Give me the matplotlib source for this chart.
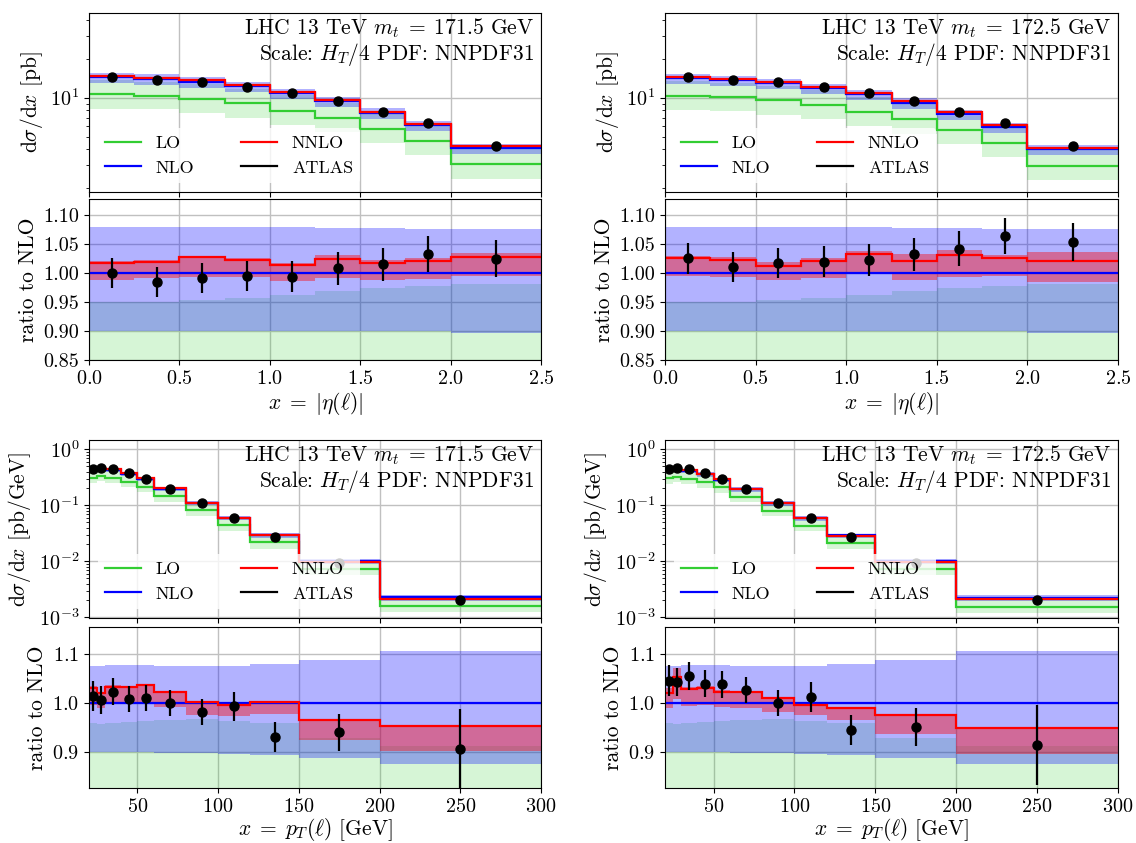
import numpy as np
import matplotlib
matplotlib.use("Agg")
import matplotlib.pyplot as plt
from matplotlib.lines import Line2D
from matplotlib.ticker import MultipleLocator, FormatStrFormatter

plt.rcParams.update({
    "font.family": "cmr10",
    "mathtext.fontset": "cm",
    "axes.formatter.use_mathtext": True,
    "font.size": 14,
    "axes.labelsize": 15.5,
    "xtick.labelsize": 14.5,
    "ytick.labelsize": 14.5,
})

LO_C = "#32cd32"
NLO_C = "#0000ff"
NNLO_C = "#ff0000"

# ---- |eta(l)| distribution ----
eta_edges = [0.0, 0.25, 0.5, 0.75, 1.0, 1.25, 1.5, 1.75, 2.0, 2.5]
eta_data = [14.5, 13.78, 13.19, 12.13, 10.83, 9.44, 7.77, 6.35, 4.21]
eta_data_relerr = [2.6, 2.6, 2.6, 2.65, 2.7, 2.75, 2.85, 2.95, 3.1]  # percent
eta_nlo_1715 = [14.5, 14.0, 13.3, 12.2, 10.9, 9.37, 7.66, 6.15, 4.11]
eta_nlo_1725 = [14.15, 13.64, 12.97, 11.90, 10.60, 9.15, 7.46, 5.97, 4.00]
# everything below relative to NLO
eta_nlo_up = [1.078, 1.078, 1.078, 1.078, 1.078, 1.077, 1.077, 1.076, 1.076]
eta_nlo_dn = [0.900, 0.900, 0.900, 0.900, 0.900, 0.900, 0.900, 0.900, 0.897]
eta_lo = [0.73, 0.74, 0.74, 0.74, 0.73, 0.745, 0.75, 0.75, 0.745]
eta_lo_up = [0.949, 0.949, 0.953, 0.956, 0.962, 0.968, 0.9735, 0.9775, 0.981]
eta_lo_dn = [0.566, 0.579, 0.571, 0.574, 0.569, 0.576, 0.584, 0.585, 0.577]
eta_nnlo_1715 = [1.0167, 1.018, 1.027, 1.022, 1.013, 1.024, 1.017, 1.021, 1.028]
eta_nnlo_up_1715 = [1.021, 1.022, 1.029, 1.025, 1.017, 1.031, 1.022, 1.025, 1.034]
eta_nnlo_dn_1715 = [0.988, 0.991, 0.992, 0.992, 0.986, 0.991, 0.988, 0.990, 0.994]
eta_nnlo_1725 = [1.025, 1.022, 1.012, 1.021, 1.032, 1.021, 1.030, 1.025, 1.021]
eta_nnlo_up_1725 = [1.029, 1.028, 1.018, 1.025, 1.038, 1.033, 1.040, 1.031, 1.035]
eta_nnlo_dn_1725 = [0.994, 0.992, 0.987, 0.991, 0.998, 0.987, 0.992, 0.995, 0.985]

# ---- pT(l) distribution ----
pt_edges = [20, 25, 30, 40, 50, 60, 80, 100, 120, 150, 200, 300]
pt_data = [0.44, 0.465, 0.44, 0.373, 0.30, 0.199, 0.109, 0.060, 0.0274, 0.0095, 0.00206]
pt_data_relerr = [3.0, 2.8, 2.65, 2.6, 2.65, 2.6, 2.7, 2.95, 3.25, 4.05, 8.8]  # percent
pt_nlo_1715 = [0.434, 0.462, 0.430, 0.370, 0.297, 0.199, 0.111, 0.0604, 0.0294, 0.0101, 0.00227]
pt_nlo_1725 = [0.421, 0.446, 0.417, 0.359, 0.289, 0.194, 0.109, 0.0593, 0.0290, 0.00998, 0.00225]
pt_nlo_up = [1.076, 1.076, 1.078, 1.078, 1.077, 1.076, 1.075, 1.076, 1.080, 1.088, 1.106]
pt_nlo_dn = [0.900, 0.900, 0.900, 0.900, 0.900, 0.899, 0.898, 0.896, 0.895, 0.888, 0.876]
pt_lo = [0.72, 0.72, 0.72, 0.72, 0.725, 0.73, 0.73, 0.73, 0.74, 0.72, 0.69]
pt_lo_up = [0.960, 0.958, 0.960, 0.962, 0.964, 0.966, 0.968, 0.964, 0.959, 0.930, 0.913]
pt_lo_dn = [0.58, 0.58, 0.58, 0.58, 0.58, 0.585, 0.58, 0.575, 0.57, 0.56, 0.54]
pt_nnlo_1715 = [1.030, 1.020, 1.033, 1.032, 1.036, 1.023, 1.003, 0.997, 1.003, 0.965, 0.953]
pt_nnlo_up_1715 = [1.034, 1.023, 1.036, 1.034, 1.039, 1.025, 1.005, 0.999, 1.004, 0.966, 0.954]
pt_nnlo_dn_1715 = [0.997, 0.990, 1.001, 1.000, 1.000, 0.992, 0.975, 0.973, 0.977, 0.925, 0.903]
pt_nnlo_1725 = [1.020, 1.052, 1.029, 1.031, 1.023, 1.022, 1.011, 0.997, 0.989, 0.976, 0.950]
pt_nnlo_up_1725 = [1.030, 1.070, 1.033, 1.034, 1.026, 1.025, 1.013, 0.999, 0.991, 0.977, 0.951]
pt_nnlo_dn_1725 = [0.989, 1.008, 0.995, 0.996, 0.992, 0.991, 0.982, 0.975, 0.966, 0.937, 0.897]


def draw_pair(ax_m, ax_r, edges, nlo, nlo_up, nlo_dn, lo, lo_up, lo_dn,
              nnlo, nnlo_up, nnlo_dn, data, relerr):
    edges = np.asarray(edges, float)
    nlo = np.asarray(nlo)
    centers = 0.5 * (edges[1:] + edges[:-1])
    data = np.asarray(data)
    err = data * np.asarray(relerr) / 100.0
    for ax, sc in ((ax_m, nlo), (ax_r, np.ones_like(nlo))):
        ax.stairs(np.asarray(lo_up) * sc, edges, baseline=np.asarray(lo_dn) * sc,
                  fill=True, color=LO_C, alpha=0.2, lw=0)
        ax.stairs(np.asarray(nlo_up) * sc, edges, baseline=np.asarray(nlo_dn) * sc,
                  fill=True, color=NLO_C, alpha=0.3, lw=0)
        ax.stairs(np.asarray(nnlo_up) * sc, edges, baseline=np.asarray(nnlo_dn) * sc,
                  fill=True, color=NNLO_C, alpha=0.4, lw=0)
        ax.stairs(np.asarray(lo) * sc, edges, baseline=None, color=LO_C, lw=1.6)
        ax.stairs(sc, edges, baseline=None, color=NLO_C, lw=1.6)
        ax.stairs(np.asarray(nnlo) * sc, edges, baseline=None, color=NNLO_C, lw=1.6)
    ax_m.errorbar(centers, data, yerr=err, fmt="o", color="k", ms=6.5, lw=1.6, zorder=4)
    ax_r.errorbar(centers, data / nlo, yerr=err / nlo, fmt="o", color="k", ms=6.5,
                  lw=1.6, zorder=4)
    ax_m.set_xlim(edges[0], edges[-1])
    ax_r.set_xlim(edges[0], edges[-1])
    ax_m.set_yscale("log")
    ax_m.tick_params(labelbottom=False)
    for ax in (ax_m, ax_r):
        ax.grid(True, color="#c0c0c0", lw=1.0)
        ax.set_axisbelow(True)
    ax_r.set_ylabel("ratio to NLO")
    handles = [Line2D([], [], color=c, lw=1.6) for c in (LO_C, NLO_C, NNLO_C, "k")]
    leg = ax_m.legend(handles, ["LO", "NLO", "NNLO", "ATLAS"], loc="lower left",
                      ncol=2, framealpha=0.8, edgecolor="none", columnspacing=2.6,
                      fontsize=13)
    leg.set_zorder(10)


fig = plt.figure(figsize=(11.36, 8.43), dpi=100)
W, H = 1136.0, 843.0


def add(x0, x1, y0, y1):
    return fig.add_axes([x0 / W, 1 - y1 / H, (x1 - x0) / W, (y1 - y0) / H])


label = "LHC 13 TeV $m_t\\;=\\;%s$ GeV\nScale: $H_T/4$ PDF: NNPDF31"
cols = [(89, 541, "171.5"), (665, 1118, "172.5")]
for x0, x1, mt in cols:
    am, ar = add(x0, x1, 13, 192), add(x0, x1, 199, 360)
    if mt == "171.5":
        draw_pair(am, ar, eta_edges, eta_nlo_1715, eta_nlo_up, eta_nlo_dn, eta_lo,
                  eta_lo_up, eta_lo_dn, eta_nnlo_1715, eta_nnlo_up_1715,
                  eta_nnlo_dn_1715, eta_data, eta_data_relerr)
    else:
        draw_pair(am, ar, eta_edges, eta_nlo_1725, eta_nlo_up, eta_nlo_dn, eta_lo,
                  eta_lo_up, eta_lo_dn, eta_nnlo_1725, eta_nnlo_up_1725,
                  eta_nnlo_dn_1725, eta_data, eta_data_relerr)
    am.set_ylim(1.87, 45)
    ar.set_ylim(0.85, 1.127)
    ar.yaxis.set_major_locator(MultipleLocator(0.05))
    ar.yaxis.set_major_formatter(FormatStrFormatter("%.2f"))
    am.set_ylabel(r"$\mathrm{d}\sigma/\mathrm{d}x$ [pb]")
    ar.set_xlabel(r"$x\;=\;|\eta(\ell)|$", labelpad=2)
    am.text(0.985, 0.98, label % mt, transform=am.transAxes, ha="right", va="top",
            fontsize=15.5, linespacing=1.05, zorder=11)

    bm, br = add(x0, x1, 440, 618), add(x0, x1, 627, 788)
    if mt == "171.5":
        draw_pair(bm, br, pt_edges, pt_nlo_1715, pt_nlo_up, pt_nlo_dn, pt_lo,
                  pt_lo_up, pt_lo_dn, pt_nnlo_1715, pt_nnlo_up_1715,
                  pt_nnlo_dn_1715, pt_data, pt_data_relerr)
    else:
        draw_pair(bm, br, pt_edges, pt_nlo_1725, pt_nlo_up, pt_nlo_dn, pt_lo,
                  pt_lo_up, pt_lo_dn, pt_nnlo_1725, pt_nnlo_up_1725,
                  pt_nnlo_dn_1725, pt_data, pt_data_relerr)
    bm.set_ylim(9.7e-4, 1.47)
    br.set_ylim(0.828, 1.154)
    bm.set_ylabel(r"$\mathrm{d}\sigma/\mathrm{d}x$ [pb/GeV]")
    br.set_xlabel(r"$x\;=\;p_T(\ell)$ [GeV]", labelpad=0)
    bm.text(0.985, 0.98, label % mt, transform=bm.transAxes, ha="right", va="top",
            fontsize=15.5, linespacing=1.05, zorder=11)

fig.savefig("out.png", dpi=100)
